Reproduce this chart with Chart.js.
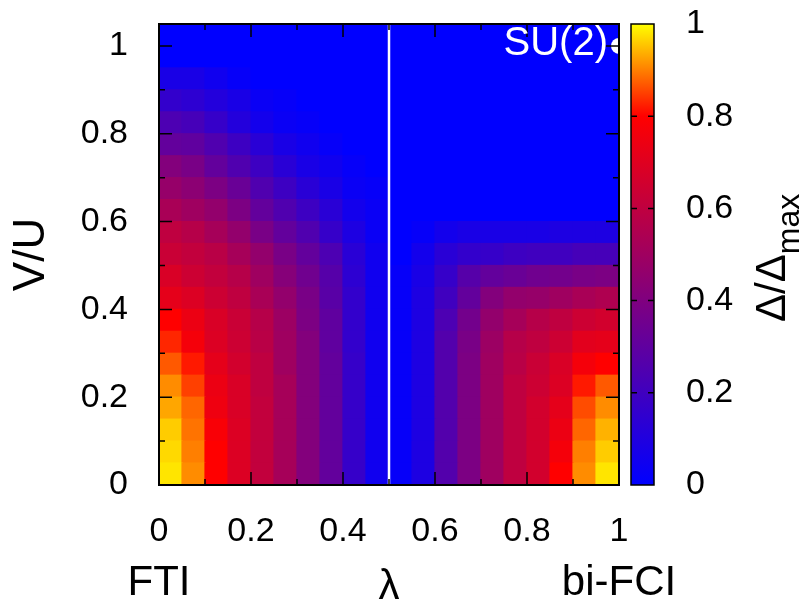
<!DOCTYPE html>
<html lang="en">
<head>
    <meta charset="UTF-8">
    <title>Gap map V/U vs lambda</title>
    <script src="https://cdn.jsdelivr.net/npm/chart.js"></script>
    <style>
        body { margin: 0; background: #fff; }
        canvas { display: block; }
    </style>
</head>
<body>
    <canvas id="gapChart" width="804" height="608"></canvas>

    <script>
        // lambda cell centres (20 columns, 0.05 wide)
        const lambdaCenters = [0.025, 0.075, 0.125, 0.175, 0.225, 0.275, 0.325, 0.375, 0.425, 0.475,
                               0.525, 0.575, 0.625, 0.675, 0.725, 0.775, 0.825, 0.875, 0.925, 0.975];
        // V/U cell edges (21 rows, 0.05 high)
        const vuEdges = [0, 0.05, 0.1, 0.15, 0.2, 0.25, 0.3, 0.35, 0.4, 0.45, 0.5,
                         0.55, 0.6, 0.65, 0.7, 0.75, 0.8, 0.85, 0.9, 0.95, 1.0, 1.05];
        // Delta/Delta_max, one list per V/U row, bottom row first
        const gapRows = [
            [0.98, 0.91, 0.80, 0.69, 0.61, 0.52, 0.41, 0.31, 0.17, 0.05, 0.02, 0.09, 0.26, 0.39, 0.50, 0.60, 0.66, 0.80, 0.91, 0.98],
            [0.97, 0.90, 0.80, 0.69, 0.61, 0.52, 0.41, 0.31, 0.17, 0.05, 0.02, 0.09, 0.26, 0.39, 0.50, 0.60, 0.66, 0.77, 0.90, 0.96],
            [0.96, 0.89, 0.78, 0.69, 0.61, 0.52, 0.41, 0.31, 0.17, 0.05, 0.02, 0.09, 0.26, 0.39, 0.50, 0.60, 0.66, 0.74, 0.88, 0.94],
            [0.93, 0.88, 0.75, 0.68, 0.61, 0.52, 0.41, 0.31, 0.17, 0.05, 0.02, 0.09, 0.26, 0.39, 0.50, 0.60, 0.66, 0.72, 0.86, 0.91],
            [0.91, 0.85, 0.74, 0.68, 0.60, 0.52, 0.41, 0.31, 0.17, 0.05, 0.02, 0.09, 0.26, 0.39, 0.50, 0.60, 0.64, 0.69, 0.82, 0.87],
            [0.87, 0.82, 0.72, 0.66, 0.60, 0.50, 0.41, 0.31, 0.17, 0.05, 0.02, 0.09, 0.26, 0.39, 0.50, 0.58, 0.63, 0.68, 0.77, 0.80],
            [0.83, 0.77, 0.69, 0.64, 0.58, 0.50, 0.41, 0.30, 0.16, 0.05, 0.02, 0.09, 0.26, 0.38, 0.49, 0.57, 0.60, 0.64, 0.71, 0.72],
            [0.80, 0.74, 0.68, 0.63, 0.57, 0.49, 0.39, 0.30, 0.16, 0.05, 0.02, 0.09, 0.24, 0.36, 0.46, 0.52, 0.57, 0.60, 0.64, 0.66],
            [0.72, 0.69, 0.64, 0.60, 0.53, 0.46, 0.38, 0.28, 0.16, 0.05, 0.02, 0.09, 0.20, 0.31, 0.41, 0.46, 0.47, 0.50, 0.53, 0.55],
            [0.68, 0.64, 0.61, 0.57, 0.50, 0.42, 0.35, 0.27, 0.14, 0.05, 0.02, 0.08, 0.17, 0.27, 0.31, 0.33, 0.35, 0.36, 0.38, 0.39],
            [0.63, 0.61, 0.58, 0.52, 0.46, 0.38, 0.31, 0.24, 0.13, 0.05, 0.00, 0.06, 0.13, 0.16, 0.17, 0.19, 0.20, 0.20, 0.22, 0.22],
            [0.60, 0.57, 0.52, 0.46, 0.38, 0.31, 0.25, 0.17, 0.09, 0.03, 0.00, 0.02, 0.06, 0.08, 0.08, 0.08, 0.08, 0.09, 0.09, 0.09],
            [0.53, 0.50, 0.46, 0.39, 0.31, 0.25, 0.19, 0.13, 0.06, 0.03, 0, 0, 0, 0, 0, 0, 0, 0, 0, 0],
            [0.47, 0.44, 0.39, 0.33, 0.25, 0.19, 0.13, 0.08, 0.03, 0.02, 0, 0, 0, 0, 0, 0, 0, 0, 0, 0],
            [0.41, 0.38, 0.31, 0.25, 0.19, 0.13, 0.08, 0.05, 0.02, 0, 0, 0, 0, 0, 0, 0, 0, 0, 0, 0],
            [0.31, 0.30, 0.25, 0.19, 0.13, 0.08, 0.05, 0.02, 0, 0, 0, 0, 0, 0, 0, 0, 0, 0, 0, 0],
            [0.24, 0.22, 0.17, 0.11, 0.06, 0.03, 0.02, 0, 0, 0, 0, 0, 0, 0, 0, 0, 0, 0, 0, 0],
            [0.16, 0.14, 0.11, 0.08, 0.03, 0.02, 0, 0, 0, 0, 0, 0, 0, 0, 0, 0, 0, 0, 0, 0],
            [0.08, 0.08, 0.05, 0.02, 0, 0, 0, 0, 0, 0, 0, 0, 0, 0, 0, 0, 0, 0, 0, 0],
            [0, 0, 0, 0, 0, 0, 0, 0, 0, 0, 0, 0, 0, 0, 0, 0, 0, 0, 0, 0],
            [0, 0, 0, 0, 0, 0, 0, 0, 0, 0, 0, 0, 0, 0, 0, 0, 0, 0, 0, 0]
        ];
        const lambdaTicks = [0, 0.2, 0.4, 0.6, 0.8, 1];
        const lambdaMinor = [0.1, 0.3, 0.5, 0.7, 0.9];
        const vuTicks = [0, 0.2, 0.4, 0.6, 0.8, 1];
        const vuMinor = [0.1, 0.3, 0.5, 0.7, 0.9];
        const cbTicks = [0, 0.2, 0.4, 0.6, 0.8, 1];
        // white boundary line at lambda = 0.5
        const boundaryLambda = [0.5, 0.5];
        const boundaryVU = [0, 1.05];
        // SU(2) point
        const su2Lambda = [1];
        const su2VU = [1];

        const FONT = "'Liberation Sans', Arial, sans-serif";
        Chart.defaults.font.family = FONT;
        Chart.defaults.color = '#000';

        // blue -> red (0.8) -> yellow
        function gapColor(v) {
            if (v <= 0.8) {
                const t = v / 0.8;
                return `rgb(${Math.round(255 * t)},0,${Math.round(255 * (1 - t))})`;
            }
            const t = (v - 0.8) / 0.2;
            return `rgb(255,${Math.round(255 * t)},0)`;
        }

        // fixed box sizes, and no extra padding from tick labels
        function fixBox(w, h) {
            return s => {
                if (w !== null) s.width = w;
                if (h !== null) s.height = h;
                s.paddingTop = 0; s.paddingBottom = 0;
                s.paddingLeft = 0; s.paddingRight = 0;
            };
        }

        const heatSets = gapRows.map((row, j) => ({
            type: 'bar',
            data: lambdaCenters.map(x => ({ x, y: [vuEdges[j], vuEdges[j + 1]] })),
            backgroundColor: row.map(gapColor),
            borderWidth: 0,
            barPercentage: 1,
            categoryPercentage: 1,
            grouped: false,
            inflateAmount: 0.6,
            order: 2
        }));

        const lineSet = {
            type: 'line',
            data: boundaryVU.map((y, i) => ({ x: boundaryLambda[i], y })),
            borderColor: '#fff',
            borderWidth: 2.5,
            pointRadius: 0,
            order: 0,
            clip: 0
        };

        const pointSet = {
            type: 'line',
            data: su2Lambda.map((x, i) => ({ x, y: su2VU[i] })),
            showLine: false,
            pointRadius: 8,
            pointBackgroundColor: '#fff',
            pointBorderWidth: 0,
            order: 0,
            clip: 0
        };

        const decorations = {
            id: 'decorations',
            afterDatasetsDraw(chart) {
                const { ctx, chartArea: a, scales } = chart;
                const x = scales.x, y = scales.y, cb = scales.cb;
                ctx.save();

                // inward tick marks on all four sides
                ctx.strokeStyle = '#000';
                ctx.lineWidth = 1.5;
                ctx.beginPath();
                const xMarks = (vals, len) => vals.forEach(v => {
                    const px = x.getPixelForValue(v);
                    ctx.moveTo(px, a.bottom); ctx.lineTo(px, a.bottom - len);
                    ctx.moveTo(px, a.top); ctx.lineTo(px, a.top + len);
                });
                const yMarks = (vals, len) => vals.forEach(v => {
                    const py = y.getPixelForValue(v);
                    ctx.moveTo(a.left, py); ctx.lineTo(a.left + len, py);
                    ctx.moveTo(a.right, py); ctx.lineTo(a.right - len, py);
                });
                xMarks(lambdaTicks, 13); xMarks(lambdaMinor, 6);
                yMarks(vuTicks, 13); yMarks(vuMinor, 6);
                ctx.stroke();
                ctx.lineWidth = 2;
                ctx.strokeRect(a.left, a.top, a.width, a.height);

                // SU(2) label
                ctx.fillStyle = '#fff';
                ctx.font = `40px ${FONT}`;
                ctx.textAlign = 'right';
                ctx.textBaseline = 'middle';
                ctx.fillText('SU(2)', x.getPixelForValue(su2Lambda[0]) - 11, y.getPixelForValue(su2VU[0]) - 2);

                // colour box
                const bx = a.right + 12, bw = 23;
                const top = cb.getPixelForValue(1), bot = cb.getPixelForValue(0);
                const grad = ctx.createLinearGradient(0, bot, 0, top);
                grad.addColorStop(0, gapColor(0));
                grad.addColorStop(0.8, gapColor(0.8));
                grad.addColorStop(1, gapColor(1));
                ctx.fillStyle = grad;
                ctx.fillRect(bx, top, bw, bot - top);
                ctx.strokeStyle = '#000';
                ctx.lineWidth = 1.5;
                ctx.beginPath();
                cbTicks.slice(1, -1).forEach(v => {
                    const py = cb.getPixelForValue(v);
                    ctx.moveTo(bx, py); ctx.lineTo(bx + 6, py);
                    ctx.moveTo(bx + bw, py); ctx.lineTo(bx + bw - 6, py);
                });
                ctx.stroke();
                ctx.strokeRect(bx, top, bw, bot - top);

                // end labels under the lambda axis
                ctx.fillStyle = '#000';
                ctx.font = `42px ${FONT}`;
                ctx.textAlign = 'center';
                ctx.textBaseline = 'alphabetic';
                ctx.fillText('FTI', x.getPixelForValue(0), 595);
                ctx.fillText('bi-FCI', x.getPixelForValue(1), 595);

                // colour box title
                ctx.translate(785, 322);
                ctx.rotate(-Math.PI / 2);
                ctx.textAlign = 'left';
                ctx.font = `42px ${FONT}`;
                ctx.fillText('Δ/Δ', 0, 0);
                const w = ctx.measureText('Δ/Δ').width;
                ctx.font = `32px ${FONT}`;
                ctx.fillText('max', w, 14);

                ctx.restore();
            }
        };

        const ctx = document.getElementById('gapChart').getContext('2d');
        new Chart(ctx, {
            type: 'bar',
            data: { datasets: [lineSet, pointSet, ...heatSets] },
            options: {
                responsive: false,
                animation: false,
                devicePixelRatio: 1,
                layout: { padding: { top: 24, left: 0, right: 0, bottom: 0 } },
                plugins: { legend: { display: false }, tooltip: { enabled: false } },
                scales: {
                    x: {
                        type: 'linear', min: 0, max: 1, offset: false, position: 'bottom',
                        grid: { display: false, drawTicks: false },
                        border: { display: false },
                        ticks: { font: { size: 34 }, padding: 26, maxRotation: 0, autoSkip: false, callback: v => String(v) },
                        afterBuildTicks: s => { s.ticks = lambdaTicks.map(value => ({ value })); },
                        afterFit: fixBox(null, 123),
                        title: { display: true, text: 'λ', font: { size: 42, lineHeight: 1 }, padding: 0 }
                    },
                    y: {
                        type: 'linear', min: 0, max: 1.05, position: 'left',
                        grid: { display: false, drawTicks: false },
                        border: { display: false },
                        ticks: { font: { size: 34 }, padding: 31, callback: v => String(v) },
                        afterBuildTicks: s => { s.ticks = vuTicks.map(value => ({ value })); },
                        afterFit: fixBox(159, null),
                        title: { display: true, text: 'V/U', font: { size: 44, lineHeight: 1 }, padding: { top: 10, bottom: 0 } }
                    },
                    cb: {
                        type: 'linear', min: 0, max: 1, position: 'right',
                        grid: { display: false, drawTicks: false },
                        border: { display: false },
                        ticks: { font: { size: 34 }, padding: 67, callback: v => String(v) },
                        afterBuildTicks: s => { s.ticks = cbTicks.map(value => ({ value })); },
                        afterFit: fixBox(185, null)
                    }
                }
            },
            plugins: [decorations]
        });
    </script>
</body>
</html>
